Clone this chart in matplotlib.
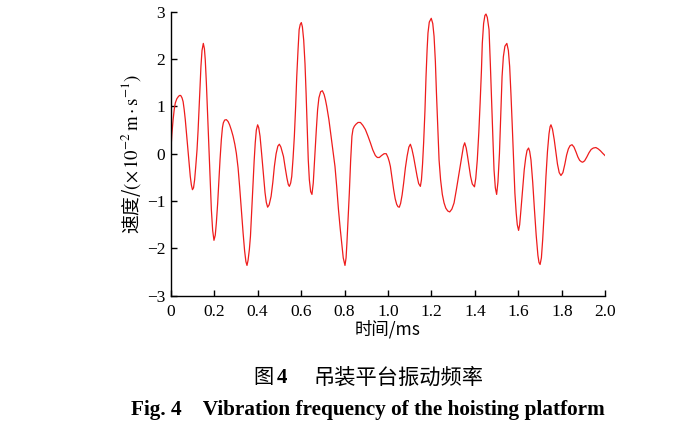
import matplotlib
matplotlib.use("Agg")
import matplotlib.pyplot as plt

# time (ms) and velocity (x10^-2 m/s)
t = [0.000, 0.005, 0.011, 0.016, 0.021, 0.028, 0.034, 0.040, 0.046, 0.052, 0.057, 0.062, 0.067, 0.073,
     0.080, 0.085, 0.090, 0.095, 0.100, 0.105, 0.110, 0.115, 0.121, 0.126, 0.130, 0.135, 0.139, 0.144,
     0.150, 0.155, 0.159, 0.164, 0.169, 0.174, 0.178, 0.183, 0.187, 0.193, 0.199, 0.205, 0.210, 0.216,
     0.221, 0.227, 0.233, 0.238, 0.242, 0.248, 0.256, 0.264, 0.271, 0.279, 0.287, 0.295, 0.302, 0.310,
     0.317, 0.325, 0.333, 0.340, 0.346, 0.351, 0.356, 0.362, 0.367, 0.373, 0.379, 0.384, 0.389, 0.394,
     0.400, 0.405, 0.411, 0.418, 0.426, 0.434, 0.440, 0.446, 0.453, 0.462, 0.470, 0.477, 0.485, 0.493,
     0.500, 0.507, 0.513, 0.519, 0.527, 0.535, 0.541, 0.546, 0.552, 0.557, 0.563, 0.569, 0.575, 0.580,
     0.586, 0.591, 0.596, 0.601, 0.606, 0.612, 0.618, 0.623, 0.628, 0.633, 0.638, 0.644, 0.650, 0.656,
     0.660, 0.664, 0.670, 0.676, 0.682, 0.690, 0.698, 0.706, 0.712, 0.718, 0.728, 0.738, 0.747, 0.756,
     0.764, 0.772, 0.780, 0.787, 0.794, 0.802, 0.807, 0.811, 0.816, 0.822, 0.828, 0.834, 0.839, 0.845,
     0.852, 0.862, 0.873, 0.884, 0.896, 0.908, 0.919, 0.930, 0.942, 0.951, 0.960, 0.970, 0.982, 0.992,
     1.000, 1.006, 1.011, 1.018, 1.026, 1.033, 1.040, 1.046, 1.052, 1.058, 1.065, 1.072, 1.080, 1.088,
     1.096, 1.103, 1.110, 1.118, 1.126, 1.134, 1.141, 1.149, 1.154, 1.159, 1.164, 1.170, 1.175, 1.180,
     1.184, 1.190, 1.199, 1.206, 1.212, 1.218, 1.223, 1.229, 1.235, 1.242, 1.250, 1.258, 1.266, 1.275,
     1.284, 1.294, 1.304, 1.315, 1.327, 1.340, 1.347, 1.353, 1.360, 1.366, 1.373, 1.380, 1.388, 1.398,
     1.404, 1.411, 1.418, 1.424, 1.430, 1.434, 1.440, 1.446, 1.451, 1.457, 1.465, 1.471, 1.477, 1.483,
     1.488, 1.494, 1.500, 1.506, 1.513, 1.519, 1.525, 1.531, 1.538, 1.547, 1.554, 1.560, 1.566, 1.572,
     1.578, 1.584, 1.590, 1.595, 1.601, 1.606, 1.612, 1.620, 1.627, 1.634, 1.640, 1.647, 1.652, 1.658,
     1.666, 1.674, 1.682, 1.690, 1.695, 1.700, 1.706, 1.712, 1.720, 1.727, 1.734, 1.741, 1.746, 1.750,
     1.757, 1.765, 1.772, 1.780, 1.788, 1.796, 1.805, 1.814, 1.822, 1.830, 1.838, 1.847, 1.856, 1.865,
     1.874, 1.882, 1.890, 1.896, 1.905, 1.915, 1.925, 1.935, 1.945, 1.957, 1.968, 1.978, 1.988, 1.999]
v = [0.01, 0.40, 0.72, 0.93, 1.07, 1.16, 1.20, 1.23, 1.23, 1.18, 1.10, 0.93, 0.72, 0.40,
     0.01, -0.25, -0.48, -0.66, -0.76, -0.72, -0.55, -0.28, 0.08, 0.50, 0.93, 1.42, 1.84, 2.18,
     2.33, 2.22, 1.98, 1.50, 0.93, 0.40, -0.13, -0.70, -1.18, -1.62, -1.83, -1.72, -1.46, -1.05,
     -0.62, -0.12, 0.30, 0.55, 0.65, 0.71, 0.72, 0.68, 0.61, 0.50, 0.37, 0.20, 0.01, -0.30,
     -0.69, -1.18, -1.67, -2.05, -2.28, -2.36, -2.25, -2.02, -1.74, -1.20, -0.62, -0.15, 0.23, 0.50,
     0.61, 0.55, 0.37, 0.02, -0.41, -0.82, -1.03, -1.13, -1.08, -0.90, -0.60, -0.27, 0.00, 0.16,
     0.20, 0.14, 0.04, -0.06, -0.30, -0.52, -0.65, -0.69, -0.62, -0.48, -0.10, 0.37, 1.00, 1.63,
     2.20, 2.62, 2.73, 2.77, 2.68, 2.40, 1.90, 1.28, 0.55, -0.13, -0.55, -0.80, -0.86, -0.62,
     -0.30, 0.01, 0.50, 0.93, 1.18, 1.31, 1.33, 1.25, 1.14, 1.00, 0.72, 0.37, 0.05, -0.27,
     -0.70, -1.18, -1.58, -1.88, -2.20, -2.36, -2.20, -1.88, -1.40, -0.83, -0.15, 0.37, 0.52, 0.58,
     0.62, 0.66, 0.66, 0.60, 0.51, 0.37, 0.23, 0.08, -0.04, -0.08, -0.08, -0.04, 0.00, 0.00,
     -0.08, -0.17, -0.27, -0.50, -0.76, -0.95, -1.07, -1.12, -1.13, -1.05, -0.87, -0.62, -0.30, -0.05,
     0.14, 0.20, 0.10, -0.07, -0.27, -0.48, -0.63, -0.69, -0.55, -0.22, 0.23, 0.90, 1.63, 2.20,
     2.55, 2.78, 2.86, 2.75, 2.48, 1.95, 1.28, 0.55, -0.13, -0.55, -0.86, -1.04, -1.15, -1.21,
     -1.23, -1.17, -1.04, -0.75, -0.41, -0.05, 0.15, 0.23, 0.12, -0.05, -0.27, -0.48, -0.64, -0.70,
     -0.52, -0.13, 0.45, 1.07, 1.75, 2.33, 2.75, 2.92, 2.95, 2.88, 2.62, 1.90, 1.07, 0.30,
     -0.34, -0.72, -0.86, -0.60, 0.01, 0.85, 1.63, 2.05, 2.27, 2.33, 2.18, 1.84, 1.25, 0.58,
     -0.15, -0.83, -1.25, -1.50, -1.62, -1.50, -1.18, -0.72, -0.34, -0.08, 0.07, 0.12, 0.05, -0.13,
     -0.60, -1.18, -1.72, -2.15, -2.30, -2.34, -2.20, -1.81, -1.15, -0.48, 0.05, 0.42, 0.57, 0.61,
     0.52, 0.30, 0.05, -0.22, -0.40, -0.46, -0.40, -0.22, -0.03, 0.10, 0.17, 0.19, 0.14, 0.04,
     -0.07, -0.14, -0.17, -0.18, -0.15, -0.07, 0.02, 0.09, 0.12, 0.13, 0.10, 0.06, 0.01, -0.04]

x_ticks = [0, 0.2, 0.4, 0.6, 0.8, 1.0, 1.2, 1.4, 1.6, 1.8, 2.0]
x_tick_labels = ["0", "0.2", "0.4", "0.6", "0.8", "1.0", "1.2", "1.4", "1.6", "1.8", "2.0"]
y_ticks = [-3, -2, -1, 0, 1, 2, 3]
y_tick_labels = ["\u22123", "\u22122", "\u22121", "0", "1", "2", "3"]

plt.rcParams['font.family'] = ['Liberation Serif', 'Noto Sans CJK SC', 'DejaVu Sans']
plt.rcParams['mathtext.fontset'] = 'stix'

fig = plt.figure(figsize=(6.81, 4.25), dpi=100)
ax = fig.add_axes([0.2507, 0.3042, 0.6381, 0.6683])
ax.plot(t, v, color='#ee1c1c', lw=0.9)
ax.set_xlim(0, 2.0)
ax.set_ylim(-3, 3)
ax.set_xticks(x_ticks)
ax.set_xticklabels(x_tick_labels)
ax.set_yticks(y_ticks)
ax.set_yticklabels(y_tick_labels)
for s in ['top', 'right']:
    ax.spines[s].set_visible(False)
for s in ['left', 'bottom']:
    ax.spines[s].set_linewidth(1.0)
ax.tick_params(direction='in', length=4.5, width=1.0, labelsize=12.5, pad=4)
ax.tick_params(axis='x', pad=6)

ax.set_xlabel("时间/ms", fontsize=12.5, family=['Noto Sans CJK SC'], labelpad=0)
ax.set_ylabel(r"速度/$(\times\,10^{-2}\,\mathrm{m}\cdot\mathrm{s}^{-1})$", fontsize=13.5,
              family=['Noto Sans CJK SC'], labelpad=3)

fig.text(0.372, 0.111, "图", fontsize=14.5, family=['Noto Sans CJK SC'], ha='left', va='center')
fig.text(0.406, 0.111, "4", fontsize=15, fontweight='bold', family=['Liberation Serif'], ha='left', va='center')
fig.text(0.461, 0.111, "吊装平台振动频率", fontsize=15.3, family=['Noto Sans CJK SC'], ha='left', va='center')
fig.text(0.5405, 0.035, "Fig. 4    Vibration frequency of the hoisting platform", fontsize=15.3,
         fontweight='bold', family=['Liberation Serif'], ha='center', va='center')

fig.savefig("out.png", dpi=100)
